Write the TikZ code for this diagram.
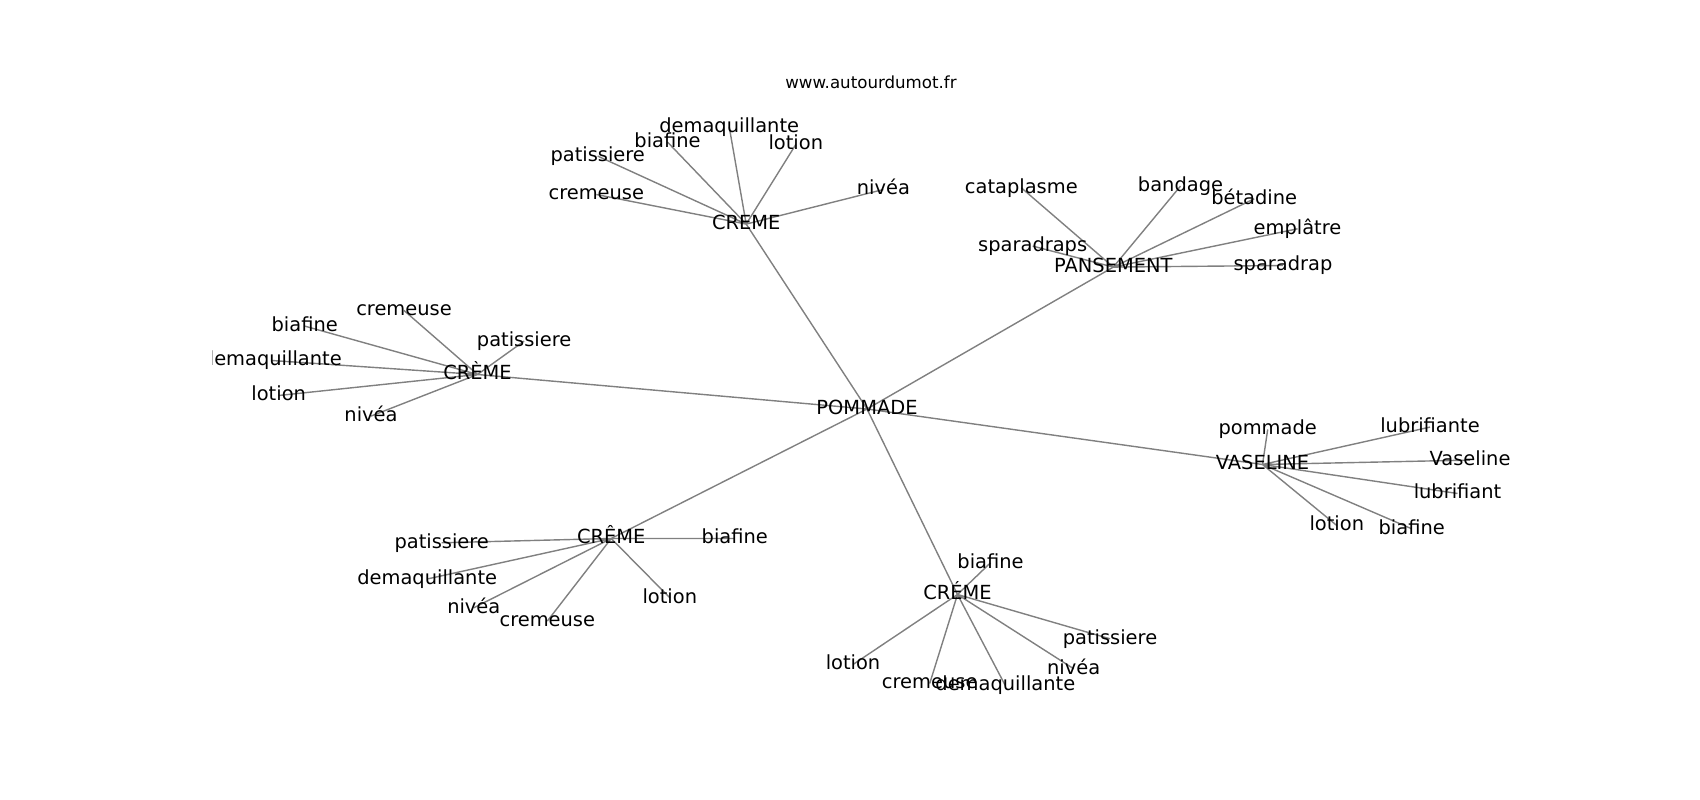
\documentclass[tikz,border=0pt]{standalone}
\usepackage{fontspec}
\setmainfont{DejaVu Sans}
\usepackage{xcolor}
\usetikzlibrary{backgrounds}

\definecolor{edgegray}{RGB}{128,128,128}
\tikzset{
  word/.style={inner sep=0pt, text height=8.41pt, text depth=2.30pt, yshift=-0.85pt,
    font=\fontsize{11.06}{13}\selectfont},
  edge/.style={draw=edgegray, line width=0.8pt}
}

\begin{document}
\begin{tikzpicture}[x=0.02cm, y=-0.02cm]
    \useasboundingbox (0,0) rectangle (1700,800);
    \node[anchor=base, font=\fontsize{9.48}{11}\selectfont] (title) at (871,88.5) {www.autourdumot.fr};

    \begin{scope}
    \clip (212.5,96) rectangle (1530,712);
    % hubs
    \node[word] (pommade) at (867,407.5) {POMMADE};
    \node[word] (creme1) at (746.2,222.6) {CREME};
    \node[word] (creme2) at (477.5,373) {CRÈME};
    \node[word] (pansement) at (1113.3,265.6) {PANSEMENT};
    \node[word] (vaseline) at (1262.5,463) {VASELINE};
    \node[word] (creme3) at (611.2,537) {CRÊME};
    \node[word] (creme4) at (957.5,593) {CRÉME};

    % CREME
    \node[word] (c1demaq) at (729.2,125.3) {demaquillante};
    \node[word] (c1biaf) at (667.5,140.6) {biafine};
    \node[word] (c1patis) at (597.7,154.6) {patissiere};
    \node[word] (c1lotion) at (795.8,143) {lotion};
    \node[word] (c1cremeuse) at (596.3,193) {cremeuse};
    \node[word] (c1nivea) at (883.4,188) {nivéa};

    % PANSEMENT
    \node[word] (pcatapl) at (1021.3,186.3) {cataplasme};
    \node[word] (pbandage) at (1180.5,184.6) {bandage};
    \node[word] (pbetadine) at (1254.2,197.3) {bétadine};
    \node[word] (pemplatre) at (1297.5,227.3) {emplâtre};
    \node[word] (psparas) at (1032.7,244.6) {sparadraps};
    \node[word] (pspara) at (1283,264) {sparadrap};

    % CRÈME
    \node[word] (c2cremeuse) at (404,309) {cremeuse};
    \node[word] (c2biaf) at (304.7,324.6) {biafine};
    \node[word] (c2patis) at (524.1,339.6) {patissiere};
    \node[word] (c2demaq) at (271.8,359) {demaquillante};
    \node[word] (c2lotion) at (278.7,394) {lotion};
    \node[word] (c2nivea) at (371,414.6) {nivéa};

    % VASELINE
    \node[word] (vpommade) at (1267.7,428) {pommade};
    \node[word] (vlubrifiante) at (1430,425.6) {lubrifiante};
    \node[word] (vvaseline) at (1470,458.6) {Vaseline};
    \node[word] (vlubrifiant) at (1457.5,492) {lubrifiant};
    \node[word] (vlotion) at (1336.8,524) {lotion};
    \node[word] (vbiaf) at (1411.7,527.3) {biafine};

    % CRÊME
    \node[word] (c3patis) at (441.7,541.3) {patissiere};
    \node[word] (c3biaf) at (734.8,537) {biafine};
    \node[word] (c3demaq) at (427.2,577.5) {demaquillante};
    \node[word] (c3nivea) at (473.8,606.3) {nivéa};
    \node[word] (c3cremeuse) at (547.3,619.6) {cremeuse};
    \node[word] (c3lotion) at (669.8,596.3) {lotion};

    % CRÉME
    \node[word] (c4biaf) at (990.5,561.3) {biafine};
    \node[word] (c4lotion) at (853,663) {lotion};
    \node[word] (c4cremeuse) at (929.7,682) {cremeuse};
    \node[word] (c4demaq) at (1005.3,684) {demaquillante};
    \node[word] (c4nivea) at (1073.7,667.3) {nivéa};
    \node[word] (c4patis) at (1110,637.3) {patissiere};
    \end{scope}

    \begin{scope}[on background layer]
    \draw[edge] (pommade.center) -- (creme1.center) (pommade.center) -- (creme2.center)
        (pommade.center) -- (pansement.center) (pommade.center) -- (vaseline.center)
        (pommade.center) -- (creme3.center) (pommade.center) -- (creme4.center);
    \draw[edge] (creme1.center) -- (c1demaq.center) (creme1.center) -- (c1biaf.center)
        (creme1.center) -- (c1patis.center) (creme1.center) -- (c1lotion.center)
        (creme1.center) -- (c1cremeuse.center) (creme1.center) -- (c1nivea.center);
    \draw[edge] (pansement.center) -- (pcatapl.center) (pansement.center) -- (pbandage.center)
        (pansement.center) -- (pbetadine.center) (pansement.center) -- (pemplatre.center)
        (pansement.center) -- (psparas.center) (pansement.center) -- (pspara.center);
    \draw[edge] (creme2.center) -- (c2cremeuse.center) (creme2.center) -- (c2biaf.center)
        (creme2.center) -- (c2patis.center) (creme2.center) -- (c2demaq.center)
        (creme2.center) -- (c2lotion.center) (creme2.center) -- (c2nivea.center);
    \draw[edge] (vaseline.center) -- (vpommade.center) (vaseline.center) -- (vlubrifiante.center)
        (vaseline.center) -- (vvaseline.center) (vaseline.center) -- (vlubrifiant.center)
        (vaseline.center) -- (vlotion.center) (vaseline.center) -- (vbiaf.center);
    \draw[edge] (creme3.center) -- (c3patis.center) (creme3.center) -- (c3biaf.center)
        (creme3.center) -- (c3demaq.center) (creme3.center) -- (c3nivea.center)
        (creme3.center) -- (c3cremeuse.center) (creme3.center) -- (c3lotion.center);
    \draw[edge] (creme4.center) -- (c4biaf.center) (creme4.center) -- (c4lotion.center)
        (creme4.center) -- (c4cremeuse.center) (creme4.center) -- (c4demaq.center)
        (creme4.center) -- (c4nivea.center) (creme4.center) -- (c4patis.center);
    \end{scope}
\end{tikzpicture}
\end{document}
